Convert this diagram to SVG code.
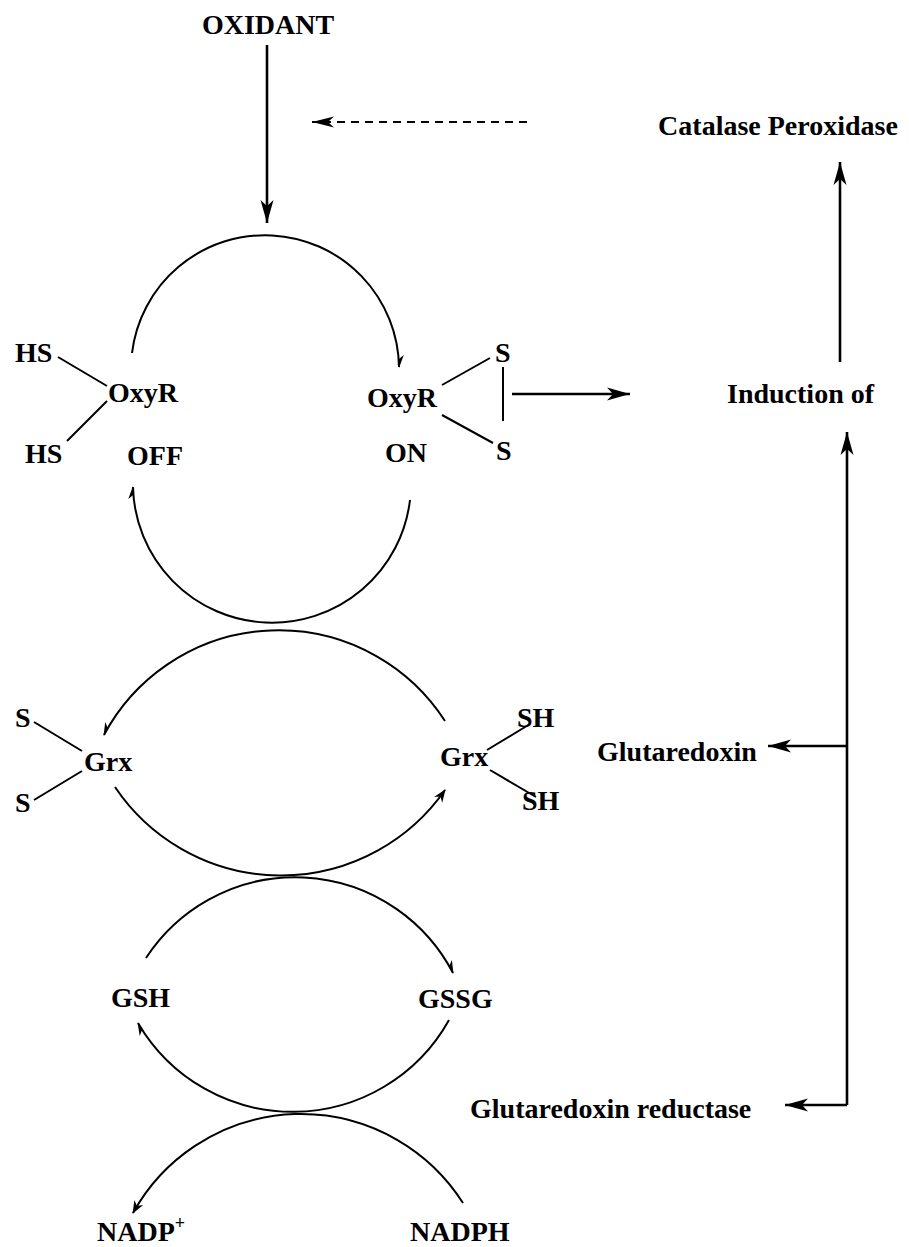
<svg xmlns="http://www.w3.org/2000/svg" width="909" height="1247" viewBox="0 0 909 1247">
<style>
text{font-family:"Liberation Serif","Times New Roman",serif;font-weight:bold;font-size:28px;fill:#000}
.arc{fill:none;stroke:#000;stroke-width:2}
.ln{fill:none;stroke:#000;stroke-width:2.6}
.bond{fill:none;stroke:#000;stroke-width:2}
.dash{fill:none;stroke:#000;stroke-width:2.2;stroke-dasharray:8 6}
</style>
<defs>
<marker id="big" markerUnits="userSpaceOnUse" viewBox="-24 -8 26 16" refX="0" refY="0" markerWidth="26" markerHeight="16" orient="auto"><path d="M0,0 L-23,-6.5 L-17,0 L-23,6.5 z" fill="#000"/></marker>
<marker id="dhead" markerUnits="userSpaceOnUse" viewBox="-24 -8 26 16" refX="0" refY="0" markerWidth="26" markerHeight="16" orient="auto"><path d="M0,0 L-22,-5.5 L-16,0 L-22,5.5 z" fill="#000"/></marker>
<marker id="barbN" markerUnits="userSpaceOnUse" viewBox="-14 -7 16 14" refX="0" refY="0" markerWidth="16" markerHeight="14" orient="auto"><path d="M1,0 L-12,-5 L-8,0 z" fill="#000"/></marker>
<marker id="barbP" markerUnits="userSpaceOnUse" viewBox="-14 -7 16 14" refX="0" refY="0" markerWidth="16" markerHeight="14" orient="auto"><path d="M1,0 L-12,5 L-8,0 z" fill="#000"/></marker>
<marker id="small" markerUnits="userSpaceOnUse" viewBox="-14 -7 16 14" refX="0" refY="0" markerWidth="16" markerHeight="14" orient="auto"><path d="M1,0 L-12,-5 L-8,0 L-12,5 z" fill="#000"/></marker>
</defs>
<g id="connectors">
<path class="ln" d="M267,45 L267,223" marker-end="url(#big)"/>
<path class="dash" d="M527,122 L312,122" marker-end="url(#dhead)"/>
<path class="ln" d="M840,362 L840,162" marker-end="url(#big)"/>
<path class="ln" d="M512,394 L630,394" marker-end="url(#big)"/>
<path class="ln" d="M847,1105 L847,432" marker-end="url(#big)"/>
<path class="ln" d="M847,746 L768,746" marker-end="url(#big)"/>
<path class="ln" d="M847,1105 L785,1105" marker-end="url(#big)"/>
<path class="arc" d="M132,353 A134,134 0 0 1 399,367" marker-end="url(#barbN)"/>
<path class="arc" d="M410,500 A139,139 0 0 1 133,487" marker-end="url(#barbN)"/>
<path class="arc" d="M445,721 A198,198 0 0 0 104,735" marker-end="url(#barbP)"/>
<path class="arc" d="M115,787 A200,200 0 0 0 445,790" marker-end="url(#small)"/>
<path class="arc" d="M146,958 A178,178 0 0 1 453,973" marker-end="url(#barbN)"/>
<path class="arc" d="M449,1020 A179,179 0 0 1 138,1023" marker-end="url(#barbN)"/>
<path class="arc" d="M463,1203 A192,192 0 0 0 133,1213" marker-end="url(#small)"/>
</g>
<g id="oxidant"><text x="268" y="34" text-anchor="middle">OXIDANT</text></g>
<g id="catalase"><text x="778" y="135" text-anchor="middle">Catalase Peroxidase</text></g>
<g id="oxyr-off">
<text x="15" y="362">HS</text>
<text x="108" y="402">OxyR</text>
<text x="25" y="463">HS</text>
<text x="127" y="465">OFF</text>
<path class="bond" d="M58,357 L107,386 M107,401 L67,441"/>
</g>
<g id="oxyr-on">
<text x="367" y="407">OxyR</text>
<text x="385" y="462">ON</text>
<text x="495" y="362">S</text>
<text x="496" y="460">S</text>
<path class="bond" d="M442,385 L490,358 M503,367 L503,421 M442,415 L493,443"/>
</g>
<g id="induction"><text x="727" y="403">Induction of</text></g>
<g id="grx-ox">
<text x="15" y="727">S</text>
<text x="15" y="812">S</text>
<text x="84" y="771">Grx</text>
<path class="bond" d="M34,722 L82,751 M34,800 L82,771"/>
</g>
<g id="grx-red">
<text x="440" y="766">Grx</text>
<text x="517" y="727">SH</text>
<text x="522" y="810">SH</text>
<path class="bond" d="M487,750 L530,724 M490,770 L536,797"/>
</g>
<g id="glutaredoxin"><text x="597" y="761">Glutaredoxin</text></g>
<g id="gsh"><text x="111" y="1007">GSH</text></g>
<g id="gssg"><text x="418" y="1008">GSSG</text></g>
<g id="grx-reductase"><text x="470" y="1118">Glutaredoxin reductase</text></g>
<g id="nadp"><text x="97" y="1241">NADP<tspan font-size="18" dy="-12">+</tspan></text></g>
<g id="nadph"><text x="410" y="1241">NADPH</text></g>
</svg>
